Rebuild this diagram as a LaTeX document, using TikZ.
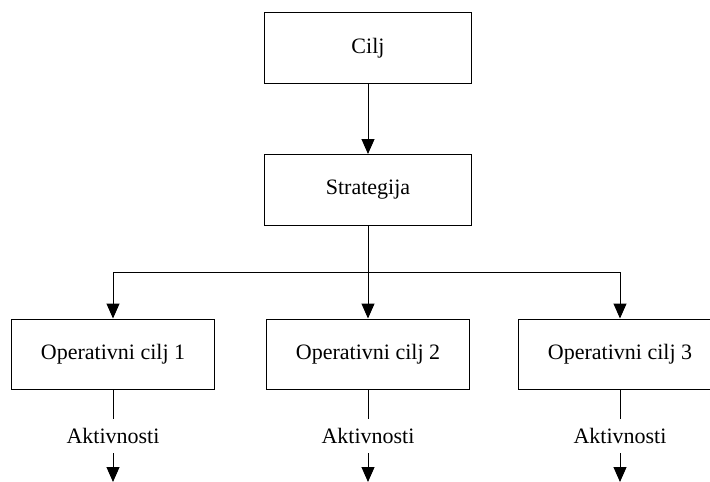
\documentclass[tikz,border=0pt]{standalone}
\usepackage{fontspec}
\setmainfont{Liberation Serif}
\usetikzlibrary{arrows.meta}

\begin{document}
\begin{tikzpicture}[
        x=1pt, y=1pt,
        box/.style={rectangle, draw=black, line width=1pt, minimum width=207pt, minimum height=71pt, font=\fontsize{22}{25}\selectfont},
        opbox/.style={box, minimum width=203pt, minimum height=70pt},
        acttext/.style={rectangle, inner sep=0pt, minimum height=34pt, font=\fontsize{22}{25}\selectfont},
        arrow/.style={-{Triangle[length=15pt, width=13pt]}, line width=1pt},
        line/.style={line width=1pt}
    ]

    \useasboundingbox (0,0) rectangle (710,-482);

    % Top of the hierarchy
    \node[box] (cilj) at (368, -48) {Cilj};
    \node[box] (strategija) at (368, -190) {Strategija};

    % Operational goals
    \node[opbox] (op1) at (113, -354) {Operativni cilj 1};
    \node[opbox] (op2) at (368, -354) {Operativni cilj 2};
    \node[opbox] (op3) at (620, -354) {Operativni cilj 3};

    % Activities
    \node[acttext] (akt1) at (113, -436) {Aktivnosti};
    \node[acttext] (akt2) at (368, -436) {Aktivnosti};
    \node[acttext] (akt3) at (620, -436) {Aktivnosti};
    \coordinate (end1) at (113, -482);
    \coordinate (end2) at (368, -482);
    \coordinate (end3) at (620, -482);
    \coordinate (split) at (368, -272);

    % Arrows
    \draw[arrow] (cilj.south) -- (strategija.north);
    \draw[line] (strategija.south) -- (split);
    \draw[arrow] (split) -| (op1.north);
    \draw[arrow] (split) -- (op2.north);
    \draw[arrow] (split) -| (op3.north);
    \draw[line] (op1.south) -- (akt1.north);
    \draw[line] (op2.south) -- (akt2.north);
    \draw[line] (op3.south) -- (akt3.north);
    \draw[arrow] (akt1.south) -- (end1);
    \draw[arrow] (akt2.south) -- (end2);
    \draw[arrow] (akt3.south) -- (end3);

\end{tikzpicture}
\end{document}
